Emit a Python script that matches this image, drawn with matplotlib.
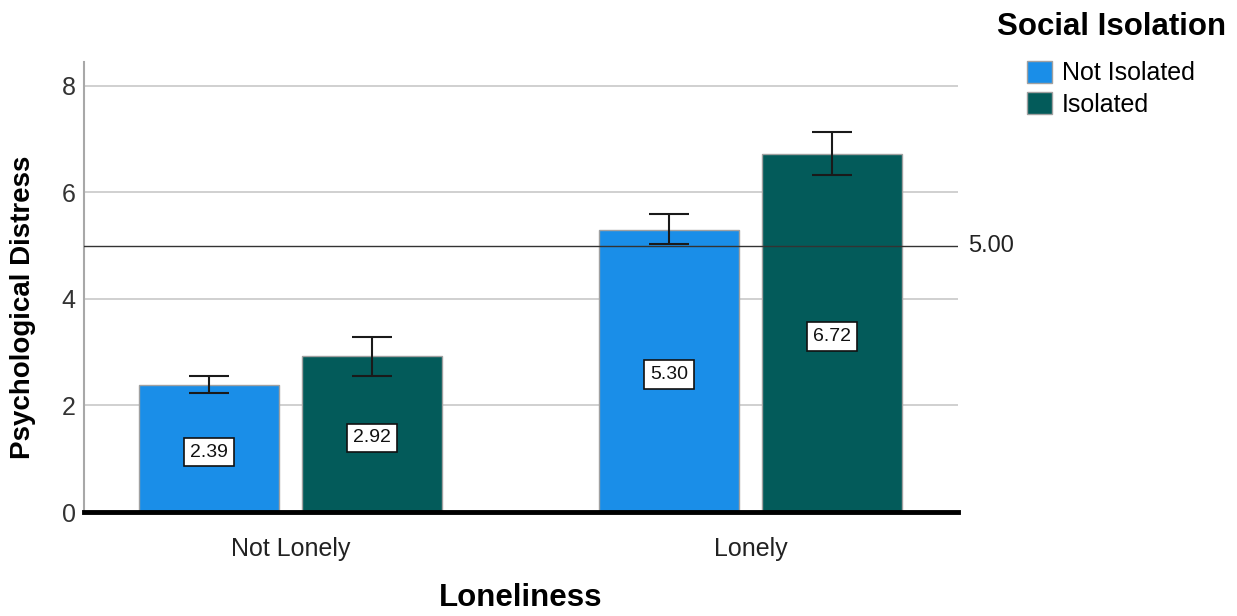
import matplotlib
matplotlib.use("Agg")
import matplotlib.pyplot as plt
from matplotlib.patches import Patch
import numpy as np

plt.rcParams['font.family'] = ['Liberation Sans', 'DejaVu Sans']

categories = ["Not Lonely", "Lonely"]
groups = ["Not Isolated", "Isolated"]
means = {
    "Not Isolated": [2.39, 5.30],
    "Isolated": [2.92, 6.72],
}
ci_low = {
    "Not Isolated": [2.24, 5.03],
    "Isolated": [2.56, 6.32],
}
ci_high = {
    "Not Isolated": [2.55, 5.59],
    "Isolated": [3.29, 7.14],
}
reference_value = 5.00
yticks = [0, 2, 4, 6, 8]

colors = {"Not Isolated": "#1a8ee8", "Isolated": "#035b5a"}

W, H = 1237, 616
fig = plt.figure(figsize=(W / 100, H / 100), dpi=100)
ax = fig.add_axes([84 / W, 104 / H, 874 / W, 450 / H])

x = np.arange(len(categories))
width = 0.304
offsets = {"Not Isolated": -0.177, "Isolated": 0.177}

for g in groups:
    xs = x + offsets[g]
    m = np.array(means[g])
    lo = m - np.array(ci_low[g])
    hi = np.array(ci_high[g]) - m
    ax.bar(xs, m, width=width, color=colors[g], edgecolor="#a0a0a0",
           linewidth=1.0, zorder=2)
    ax.errorbar(xs, m, yerr=[lo, hi], fmt="none", ecolor="#1a1a1a",
                elinewidth=1.5, capsize=14.5, capthick=1.5, zorder=4)
    for xi, v in zip(xs, m):
        ax.text(xi, v / 2 - 0.07, f"{v:.2f}", ha="center", va="center",
                fontsize=14, color="#111111", zorder=5,
                bbox=dict(boxstyle="square,pad=0.3", facecolor="white",
                          edgecolor="#111111", linewidth=1.2))

ax.axhline(reference_value, color="#333333", linewidth=1.0, zorder=3)
ax.text(1.011, reference_value, f"{reference_value:.2f}",
        transform=ax.get_yaxis_transform(), ha="left", va="center",
        fontsize=17, color="#222222")

ax.set_xlim(-0.449, 1.451)
ax.set_ylim(0, 8.45)
ax.set_yticks(yticks)
ax.set_yticklabels([str(t) for t in yticks])
ax.yaxis.grid(True, color="#c8c8c8", linewidth=1.2, zorder=0)
ax.set_axisbelow(True)
ax.tick_params(axis="y", length=0, pad=6, labelsize=18, labelcolor="#333333")
ax.set_xticks(x)
ax.set_xticklabels(categories)
ax.tick_params(axis="x", length=0, pad=18, labelsize=18, labelcolor="#222222")

for side in ["top", "right"]:
    ax.spines[side].set_visible(False)
ax.spines["left"].set_color("#a8a8a8")
ax.spines["left"].set_linewidth(1.5)
ax.spines["bottom"].set_color("#000000")
ax.spines["bottom"].set_linewidth(3.5)
ax.spines["bottom"].set_zorder(6)

ax.set_xlabel("Loneliness", fontsize=22.5, fontweight="bold", labelpad=16)
ax.set_ylabel("Psychological Distress", fontsize=20, fontweight="bold")
ax.yaxis.set_label_coords((36 - 84) / 874, (512 - 307) / 450)

fig.text(997 / W, 1 - 27 / H, "Social Isolation", ha="left", va="center",
         fontsize=22.5, fontweight="bold", color="#000000")
handles = [Patch(facecolor=colors[g], edgecolor="#a0a0a0", label=g) for g in groups]
fig.legend(handles=handles, loc="upper left",
           bbox_to_anchor=(1027 / W, 1 - 61 / H), frameon=False, fontsize=18,
           borderpad=0, borderaxespad=0,
           handlelength=1.0, handleheight=0.96, handletextpad=0.4,
           labelspacing=0.28)

fig.savefig("out.png", dpi=100)
